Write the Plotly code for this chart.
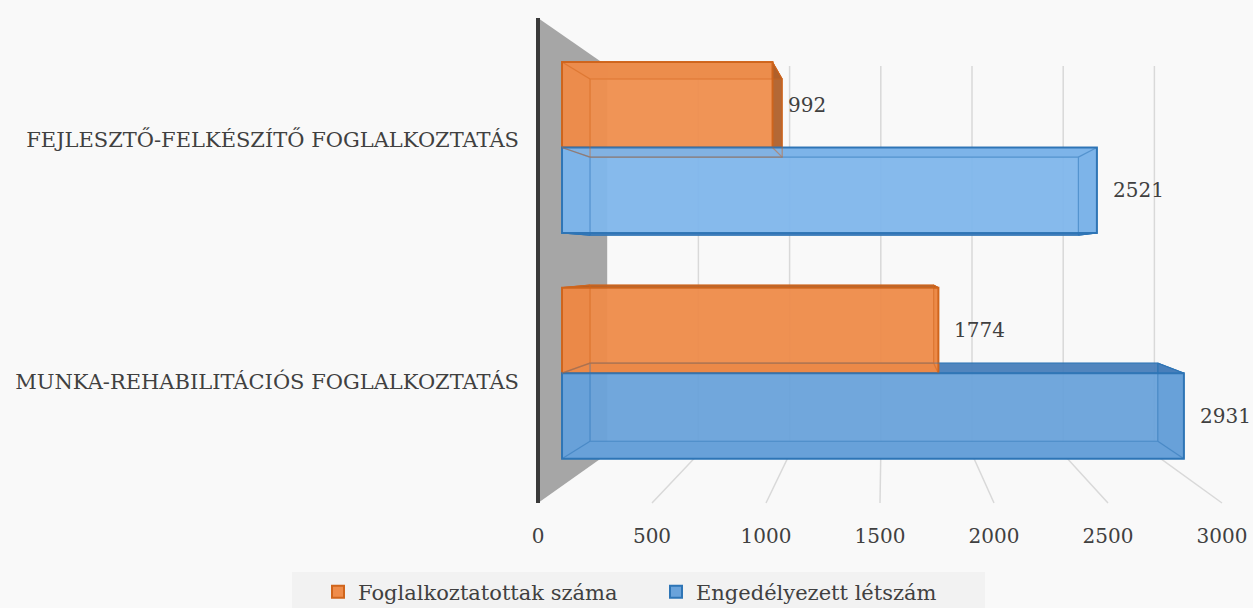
import plotly.graph_objects as go

# ---------------- data ----------------
categories = ["MUNKA-REHABILITÁCIÓS FOGLALKOZTATÁS", "FEJLESZTŐ-FELKÉSZÍTŐ FOGLALKOZTATÁS"]
employed = [1774, 992]      # Foglalkoztatottak száma
approved = [2931, 2521]     # Engedélyezett létszám
series_names = ["Foglalkoztatottak száma", "Engedélyezett létszám"]
value_ticks = [0, 500, 1000, 1500, 2000, 2500, 3000]

# ---------------- styling / geometry ----------------
W, H = 1253, 608
PL, PR, PT, PB = 530, 1253, 0, 520          # plot area in pixels
FONT = "DejaVu Serif"
TXT = "#404040"
BG = "#f9f9f9"

ORANGE_FACE, ORANGE_LINE, ORANGE_DARK = ["#ef8c4a", "#f08f4e"], "#d0651c", "rgba(176,96,42,0.95)"
BLUE_FACE, BLUE_LINE, BLUE_DARK = ["#6aa3db", "#80b7ec"], "#2e75b6", "rgba(72,126,186,0.95)"

# simple perspective model of the 3-D chart
VX, VY = 884.0, 258.0                       # vanishing point
FX0, FKX = 538.0, 0.228                     # front plane: px = FX0 + FKX*v
FY0, FKY = 503.0, 242.5                     # front plane: py = FY0 - FKY*(c+0.5)
S_FRONT, S_BACKWALL = 1.0, 0.80
S_BAR_F = 0.9306
S_BAR_B = S_BAR_F * 0.913
BAR_W = 0.379


def proj(v, c, s):
    x = VX + s * (FX0 + FKX * v - VX)
    y = VY + s * (FY0 - FKY * (c + 0.5) - VY)
    return x, y


# plotly axes = the bars' front plane
BX0 = VX + S_BAR_F * (FX0 - VX)
BKX = S_BAR_F * FKX
BY0 = VY + S_BAR_F * (FY0 - FKY * 0.5 - VY)
BKY = S_BAR_F * FKY


def to_data(px, py):
    return (px - BX0) / BKX, (BY0 - py) / BKY


def pt(v, c, s):
    return to_data(*proj(v, c, s))


def path(points):
    return "M " + " L ".join(f"{x},{y}" for x, y in points)


def paper(px, py):
    return (px - PL) / (PR - PL), (PB - py) / (PB - PT)


x_range = [to_data(PL, 0)[0], to_data(PR, 0)[0]]
y_range = [to_data(0, PB)[1], to_data(0, PT)[1]]

cpos = list(range(len(categories)))

fig = go.Figure()

# front faces of the bars (on an overlay subplot so they sit above the box sides)
fig.add_trace(go.Bar(
    y=cpos, x=employed, orientation="h", name=series_names[0],
    offset=0, width=BAR_W, base=0, xaxis="x3", yaxis="y3",
    marker=dict(color=ORANGE_FACE, opacity=0.95, line=dict(color=ORANGE_LINE, width=2)),
    hoverinfo="x",
))
fig.add_trace(go.Bar(
    y=cpos, x=approved, orientation="h", name=series_names[1],
    offset=-BAR_W, width=BAR_W, base=0, xaxis="x3", yaxis="y3",
    marker=dict(color=BLUE_FACE, opacity=0.95, line=dict(color=BLUE_LINE, width=2)),
    hoverinfo="x",
))


def add_box(val, c0, c1, line_col, dark):
    sf, sb = S_BAR_F, S_BAR_B
    faces = [
        [(0, c1, sf), (val, c1, sf), (val, c1, sb), (0, c1, sb)],   # top
        [(0, c0, sf), (val, c0, sf), (val, c0, sb), (0, c0, sb)],   # bottom
        [(val, c0, sf), (val, c1, sf), (val, c1, sb), (val, c0, sb)],  # right
        [(0, c0, sf), (0, c1, sf), (0, c1, sb), (0, c0, sb)],       # left
    ]
    for f in faces:
        pts = [pt(*p) for p in f] + [pt(*f[0])]
        fig.add_trace(go.Scatter(
            x=[p[0] for p in pts], y=[p[1] for p in pts], mode="lines",
            fill="toself", fillcolor=dark, line=dict(color=line_col, width=1),
            showlegend=False, hoverinfo="skip"))
    # edges drawn above the front faces
    edges = []
    corners = [(0, c0), (val, c0), (val, c1), (0, c1), (0, c0)]
    for v, c in corners:
        edges.append(pt(v, c, sb))
    for v, c in corners[:4]:
        edges += [(None, None), pt(v, c, sf), pt(v, c, sb)]
    fig.add_trace(go.Scatter(
        x=[p[0] for p in edges], y=[p[1] for p in edges], mode="lines",
        xaxis="x3", yaxis="y3", line=dict(color=line_col, width=1.2), opacity=0.5,
        connectgaps=False, showlegend=False, hoverinfo="skip"))


for i in cpos:
    add_box(approved[i], i - BAR_W, i, BLUE_LINE, BLUE_DARK)
    add_box(employed[i], i, i + BAR_W, ORANGE_LINE, ORANGE_DARK)

# data labels
annotations = []
for i in cpos:
    for val, cc in ((employed[i], i + BAR_W / 2), (approved[i], i - BAR_W / 2)):
        annotations.append(dict(
            x=val, y=cc, xref="x", yref="y", text=str(val), showarrow=False,
            xanchor="left", yanchor="middle", xshift=14,
            font=dict(family=FONT, size=20, color=TXT)))

# walls, floor gridlines, legend band
shapes = []
for v in value_ticks[1:]:
    pts = [pt(v, -0.5, S_FRONT), pt(v, -0.5, S_BACKWALL), pt(v, 1.5, S_BACKWALL)]
    shapes.append(dict(type="path", path=path(pts), xref="x", yref="y",
                       line=dict(color="#d9d9d9", width=1.5), layer="below"))
wall = [pt(0, 1.5, S_FRONT), pt(0, 1.5, S_BACKWALL), pt(0, -0.5, S_BACKWALL), pt(0, -0.5, S_FRONT)]
shapes.append(dict(type="path", path=path(wall) + " Z", xref="x", yref="y",
                   fillcolor="#a6a6a6", line=dict(width=0), layer="below"))
e0, e1 = pt(0, 1.5, S_FRONT), pt(0, -0.5, S_FRONT)
shapes.append(dict(type="line", x0=e0[0], y0=e0[1], x1=e1[0], y1=e1[1], xref="x", yref="y",
                   line=dict(color="#3a3a3a", width=4), layer="below"))

lb0, lb1 = paper(292, 572), paper(985, 608)
shapes.append(dict(type="rect", xref="paper", yref="paper", x0=lb0[0], x1=lb1[0],
                   y0=lb1[1], y1=lb0[1], fillcolor="#f2f2f2", line=dict(width=0), layer="below"))

# category tick positions on the front plane
cat_tickvals = [to_data(*proj(0, i, S_FRONT))[1] for i in cpos]

# value tick axis on the front floor edge
x2_range = [(PL - FX0) / FKX, (PR - FX0) / FKX]

leg_x, leg_y = paper(656, 592)

fig.update_layout(
    width=W, height=H,
    margin=dict(l=PL, r=W - PR, t=PT, b=H - PB, autoexpand=False),
    paper_bgcolor=BG, plot_bgcolor=BG,
    barmode="overlay",
    font=dict(family=FONT, color=TXT),
    xaxis=dict(range=x_range, showgrid=False, zeroline=False, showticklabels=False,
               showline=False, fixedrange=True),
    xaxis2=dict(range=x2_range, overlaying="x", anchor="y", side="bottom",
                tickvals=value_ticks, ticktext=[str(t) for t in value_ticks],
                showgrid=False, zeroline=False, showline=False, ticks="",
                ticklabelstandoff=2, tickfont=dict(family=FONT, size=20, color=TXT)),
    xaxis3=dict(range=x_range, overlaying="x", anchor="y3", visible=False),
    yaxis=dict(range=y_range, tickvals=cat_tickvals, ticktext=categories,
               showgrid=False, zeroline=False, showline=False, ticks="",
               ticklabelstandoff=10, tickfont=dict(family=FONT, size=21, color=TXT)),
    yaxis3=dict(range=y_range, overlaying="y", anchor="x3", visible=False),
    legend=dict(orientation="h", xref="paper", yref="paper",
                x=leg_x, xanchor="center", y=leg_y, yanchor="middle",
                entrywidth=293, entrywidthmode="pixels",
                bgcolor="rgba(0,0,0,0)", font=dict(family=FONT, size=21, color=TXT),
                traceorder="normal"),
    shapes=shapes,
    annotations=annotations,
)

# invisible trace to activate xaxis2 for the value tick labels
fig.add_trace(go.Scatter(x=[value_ticks[0]], y=[cat_tickvals[0]], xaxis="x2", mode="markers",
                         marker=dict(opacity=0), showlegend=False, hoverinfo="skip"))

fig.write_html("out.html", config={"displayModeBar": False},
               post_script="document.body.style.margin='0px';"
                           "document.body.style.background='" + BG + "';")
